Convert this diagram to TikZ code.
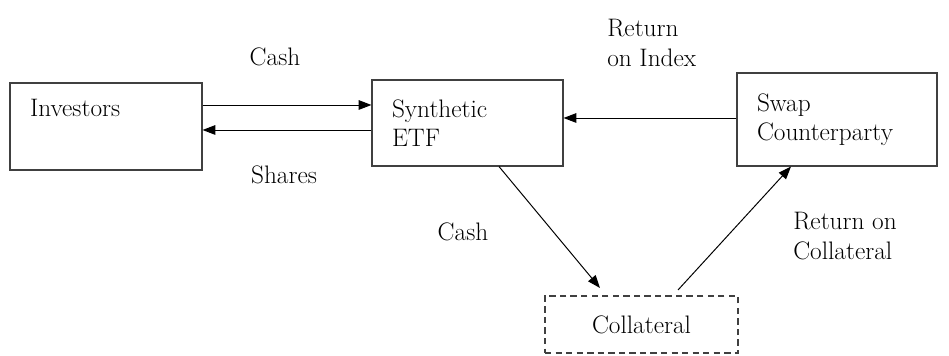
\documentclass[tikz,border=0pt]{standalone}
\usetikzlibrary{arrows.meta}
\tikzset{
  party/.style={draw=black!75, line width=0.8pt, rectangle, align=left,
    inner xsep=0.5cm, inner ysep=0pt, text=black},
  flow/.style={line width=0.7pt, -{Triangle[length=0.32cm,width=0.24cm]}},
  tag/.style={text=black, align=left}
}
\begin{document}
\begin{tikzpicture}[font=\fontsize{18}{21}\selectfont]
    \useasboundingbox (0,0) rectangle (23.725,8.9);
    % the three parties and the collateral pool
    \node[party, minimum width=4.8cm, minimum height=2.175cm, text width=3.8cm,
      text depth=0.95cm] (inv) at (2.65,5.7375) {Investors};
    \node[party, minimum width=4.775cm, minimum height=2.15cm, text width=3.775cm]
      (etf) at (11.6875,5.825) {Synthetic\\ETF};
    \node[party, minimum width=5cm, minimum height=2.325cm, text width=4cm]
      (swap) at (20.925,5.9125) {Swap\\Counterparty};
    \node[party, dashed, dash pattern=on 4.5pt off 3pt, minimum width=4.825cm,
      minimum height=1.425cm, align=center] (coll) at (16.0375,0.7875) {Collateral};
    % flows
    \draw[flow] (inv.east |- 0,6.275) -- (etf.west |- 0,6.275);
    \draw[flow] (etf.west |- 0,5.65) -- (inv.east |- 0,5.65);
    \draw[flow] (swap.west |- 0,5.95) -- (etf.east |- 0,5.95);
    \coordinate (cashin) at (15.0,1.7);
    \coordinate (collout) at (16.95,1.65);
    \draw[flow] (etf.south -| 12.475,0) -- (cashin);
    \draw[flow] (collout) -- (swap.south -| 19.775,0);
    % labels
    \node[tag] (cashtop) at (6.875,7.475) {Cash};
    \node[tag] (shares) at (7.1,4.525) {Shares};
    \node[tag, anchor=west, inner xsep=0pt] (retidx) at (15.175,7.825) {Return\\on Index};
    \node[tag] (cashlow) at (11.575,3.1) {Cash};
    \node[tag, anchor=west, inner xsep=0pt] (retcoll) at (19.825,3.0) {Return on\\Collateral};
\end{tikzpicture}
\end{document}
